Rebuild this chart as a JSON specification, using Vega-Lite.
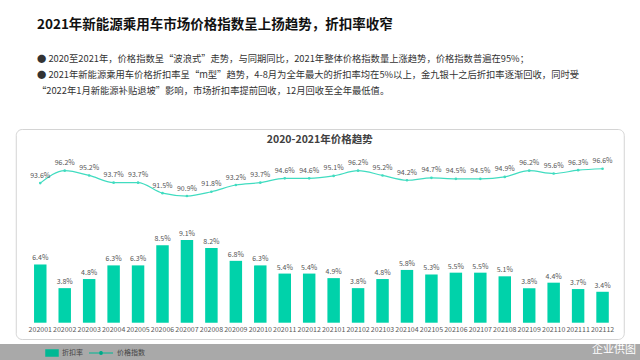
{
  "$schema": "https://vega.github.io/schema/vega-lite/v6.json",
  "background": "white",
  "padding": {"left": 0, "right": 0, "top": 17, "bottom": 0},
  "config": {"font": "Noto Sans CJK SC"},
  "title": {
    "text": "2021年新能源乘用车市场价格指数呈上扬趋势，折扣率收窄",
    "subtitle": [
      "● 2020至2021年，价格指数呈“波浪式”走势，与同期同比，2021年整体价格指数量上涨趋势，价格指数普遍在95%；",
      "● 2021年新能源乘用车价格折扣率呈“m型”趋势，4-8月为全年最大的折扣率均在5%以上，金九银十之后折扣率逐渐回收，同时受",
      "\u3000\u2002“2022年1月新能源补贴退坡”影响，市场折扣率提前回收，12月回收至全年最低值。"
    ],
    "anchor": "start",
    "frame": "group",
    "dx": 37,
    "fontSize": 13.5,
    "fontWeight": "bold",
    "color": "#111111",
    "subtitleFontSize": 9.3,
    "subtitleColor": "#333333",
    "subtitlePadding": 23.5,
    "subtitleLineHeight": 16,
    "offset": 32.5
  },
  "spacing": 0,
  "center": true,
  "vconcat": [
    {
      "width": 608,
      "height": 210,
      "title": {
        "text": "2020-2021年价格趋势",
        "anchor": "middle",
        "offset": -16,
        "fontSize": 10.5,
        "fontWeight": "bold",
        "color": "#404040"
      },
      "view": {"stroke": "#d4d4d4", "strokeWidth": 1, "cornerRadius": 6, "fill": "white"},
      "data": {
        "values": [
          {"month": "202001", "discount": 0.064, "price": 0.936},
          {"month": "202002", "discount": 0.038, "price": 0.962},
          {"month": "202003", "discount": 0.048, "price": 0.952},
          {"month": "202004", "discount": 0.063, "price": 0.937},
          {"month": "202005", "discount": 0.063, "price": 0.937},
          {"month": "202006", "discount": 0.085, "price": 0.915},
          {"month": "202007", "discount": 0.091, "price": 0.909},
          {"month": "202008", "discount": 0.082, "price": 0.918},
          {"month": "202009", "discount": 0.068, "price": 0.932},
          {"month": "202010", "discount": 0.063, "price": 0.937},
          {"month": "202011", "discount": 0.054, "price": 0.946},
          {"month": "202012", "discount": 0.054, "price": 0.946},
          {"month": "202101", "discount": 0.049, "price": 0.951},
          {"month": "202102", "discount": 0.038, "price": 0.962},
          {"month": "202103", "discount": 0.048, "price": 0.952},
          {"month": "202104", "discount": 0.058, "price": 0.942},
          {"month": "202105", "discount": 0.053, "price": 0.947},
          {"month": "202106", "discount": 0.055, "price": 0.945},
          {"month": "202107", "discount": 0.055, "price": 0.945},
          {"month": "202108", "discount": 0.051, "price": 0.949},
          {"month": "202109", "discount": 0.038, "price": 0.962},
          {"month": "202110", "discount": 0.044, "price": 0.956},
          {"month": "202111", "discount": 0.037, "price": 0.963},
          {"month": "202112", "discount": 0.034, "price": 0.966}
        ]
      },
      "encoding": {
        "x": {
          "field": "month",
          "type": "ordinal",
          "sort": null,
          "scale": {"paddingInner": 0.49, "paddingOuter": 0.68, "align": 0.55},
          "axis": {
            "title": null,
            "offset": -16,
            "domain": false,
            "ticks": false,
            "labelAngle": 0,
            "labelPadding": 2,
            "labelFontSize": 7,
            "labelColor": "#595959"
          }
        }
      },
      "layer": [
        {
          "encoding": {
            "y": {
              "field": "discount",
              "type": "quantitative",
              "scale": {"domain": [-0.0179, 0.2129], "nice": false, "zero": false},
              "axis": null
            }
          },
          "layer": [
            {
              "mark": {"type": "bar", "color": "#00d2aa"},
              "encoding": {"y2": {"datum": 0}}
            },
            {
              "mark": {"type": "text", "baseline": "bottom", "dy": -3, "fontSize": 7, "color": "#555555"},
              "encoding": {"text": {"field": "discount", "format": ".1%"}}
            }
          ]
        },
        {
          "encoding": {
            "y": {
              "field": "price",
              "type": "quantitative",
              "scale": {"domain": [0.6105, 1.049], "nice": false, "zero": false},
              "axis": null
            }
          },
          "layer": [
            {
              "mark": {
                "type": "line",
                "interpolate": "monotone",
                "color": "#40dcc0",
                "strokeWidth": 1.2,
                "point": {"filled": true, "size": 7, "color": "#40dcc0"}
              }
            },
            {
              "mark": {"type": "text", "baseline": "bottom", "dy": -4.5, "fontSize": 7, "color": "#555555"},
              "encoding": {"text": {"field": "price", "format": ".1%"}}
            }
          ]
        }
      ],
      "resolve": {"scale": {"y": "independent"}}
    },
    {
      "width": 640,
      "height": 22,
      "view": {"fill": "#a9a9a9", "stroke": null},
      "title": {
        "text": "企业供图",
        "orient": "top",
        "anchor": "end",
        "offset": -15,
        "dx": -4,
        "fontSize": 11,
        "fontWeight": "normal",
        "color": "#ffffff"
      },
      "layer": [
        {
          "data": {"values": [{"s": "折扣率"}]},
          "mark": {"type": "text", "text": ""},
          "encoding": {
            "fill": {
              "field": "s",
              "type": "nominal",
              "scale": {"range": ["#00b894"]},
              "legend": {
                "title": null,
                "orient": "none",
                "legendX": 45,
                "legendY": 2,
                "symbolType": "M-1,-0.5H1V0.5H-1Z",
                "symbolSize": 144,
                "labelFontSize": 7,
                "labelColor": "#444444",
                "labelOffset": 3,
                "encode": {"symbols": {"update": {"fill": {"value": "#00b894"}, "stroke": {"value": "#00b894"}, "opacity": {"value": 1}}}}
              }
            }
          }
        },
        {
          "data": {"values": [{"t": "价格指数"}]},
          "mark": {"type": "text", "text": ""},
          "encoding": {
            "stroke": {
              "field": "t",
              "type": "nominal",
              "scale": {"range": ["#00b894"]},
              "legend": {
                "title": null,
                "orient": "none",
                "legendX": 88,
                "legendY": -4,
                "symbolType": "M-1,0H1M0.12,0A0.12,0.12,0,1,1,-0.12,0A0.12,0.12,0,1,1,0.12,0",
                "symbolSize": 576,
                "symbolStrokeWidth": 1.2,
                "labelFontSize": 7,
                "labelColor": "#444444",
                "labelOffset": 3,
                "encode": {"symbols": {"update": {"fill": {"value": "#00b894"}, "stroke": {"value": "#00b894"}, "opacity": {"value": 1}}}}
              }
            }
          }
        }
      ],
      "resolve": {"scale": {"fill": "independent", "stroke": "independent"}}
    }
  ]
}
